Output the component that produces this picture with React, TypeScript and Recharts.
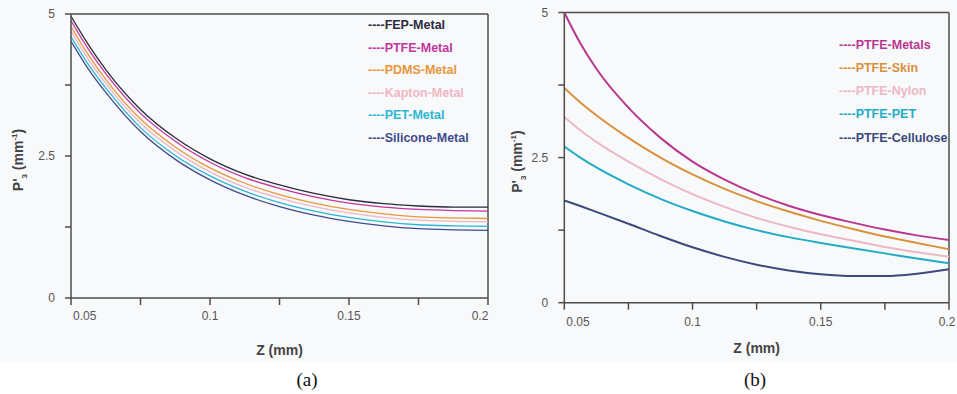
import React from 'react';
import { LineChart, Line, XAxis, YAxis, ReferenceLine, Label } from 'recharts';

// Z (mm) sample points, same grid for both panels
const zA = [0.05, 0.05625, 0.0625, 0.075, 0.0875, 0.1, 0.1125, 0.125, 0.1375, 0.15, 0.1625, 0.175, 0.1875, 0.2];
const zB = [0.05, 0.05625, 0.0625, 0.075, 0.0875, 0.1, 0.1125, 0.125, 0.1375, 0.15, 0.1625, 0.175, 0.1875, 0.2];

// panel (a): different materials against metal
const fepMetal = [4.96, 4.46, 4.02, 3.32, 2.82, 2.45, 2.18, 1.99, 1.84, 1.73, 1.66, 1.62, 1.6, 1.6];
const ptfeMetal = [4.88, 4.38, 3.95, 3.25, 2.76, 2.39, 2.12, 1.93, 1.78, 1.67, 1.6, 1.56, 1.54, 1.53];
const pdmsMetal = [4.78, 4.28, 3.85, 3.15, 2.66, 2.29, 2.02, 1.82, 1.67, 1.56, 1.48, 1.43, 1.41, 1.4];
const kaptonMetal = [4.7, 4.2, 3.78, 3.08, 2.59, 2.22, 1.95, 1.76, 1.61, 1.5, 1.42, 1.37, 1.35, 1.34];
const petMetal = [4.6, 4.11, 3.7, 3.0, 2.51, 2.15, 1.88, 1.68, 1.53, 1.42, 1.34, 1.29, 1.27, 1.26];
const siliconeMetal = [4.52, 4.03, 3.62, 2.93, 2.44, 2.08, 1.81, 1.61, 1.46, 1.35, 1.27, 1.22, 1.2, 1.19];

// panel (b): PTFE against different materials
const ptfeMetals = [5.0, 4.47, 4.03, 3.36, 2.84, 2.43, 2.12, 1.87, 1.67, 1.51, 1.38, 1.26, 1.16, 1.08];
const ptfeSkin = [3.7, 3.45, 3.23, 2.84, 2.5, 2.21, 1.96, 1.75, 1.57, 1.41, 1.27, 1.14, 1.03, 0.92];
const ptfeNylon = [3.2, 2.97, 2.77, 2.43, 2.13, 1.87, 1.65, 1.46, 1.31, 1.18, 1.07, 0.96, 0.87, 0.79];
const ptfePet = [2.69, 2.5, 2.33, 2.04, 1.79, 1.58, 1.4, 1.25, 1.13, 1.03, 0.94, 0.85, 0.76, 0.68];
const ptfeCellulose = [1.76, 1.665, 1.565, 1.36, 1.15, 0.955, 0.79, 0.655, 0.555, 0.49, 0.46, 0.46, 0.5, 0.575];

const xTicks = [0.05, 0.075, 0.1, 0.125, 0.15, 0.175, 0.2];
const xLabels = [0.05, 0.1, 0.15, 0.2];
const yTicks = [0, 1.25, 2.5, 3.75, 5];
const yLabels = [0, 2.5, 5];

const seriesA = [
  { key: 'fep', name: 'FEP-Metal', color: '#2b2b3c', values: fepMetal },
  { key: 'ptfe', name: 'PTFE-Metal', color: '#c2379b', values: ptfeMetal },
  { key: 'pdms', name: 'PDMS-Metal', color: '#e8963c', values: pdmsMetal },
  { key: 'kapton', name: 'Kapton-Metal', color: '#f0b6c2', values: kaptonMetal },
  { key: 'pet', name: 'PET-Metal', color: '#2cb6d2', values: petMetal },
  { key: 'silicone', name: 'Silicone-Metal', color: '#3f4b8c', values: siliconeMetal },
];

const seriesB = [
  { key: 'metals', name: 'PTFE-Metals', color: '#b8378f', values: ptfeMetals },
  { key: 'skin', name: 'PTFE-Skin', color: '#d9913c', values: ptfeSkin },
  { key: 'nylon', name: 'PTFE-Nylon', color: '#ebb8c4', values: ptfeNylon },
  { key: 'pet', name: 'PTFE-PET', color: '#22abc4', values: ptfePet },
  { key: 'cellulose', name: 'PTFE-Cellulose', color: '#3b4a7c', values: ptfeCellulose },
];

const AXIS = '#4d4d4d';
const TICK_FONT = '"Liberation Sans", Arial, sans-serif';

const near = (a: number, b: number) => Math.abs(a - b) < 1e-9;

const XTick = (props: any) => {
  const { x, y, payload } = props;
  const v = payload.value;
  if (!xLabels.some((l) => near(l, v))) return <g />;
  const first = near(v, 0.05);
  return (
    <text x={first ? x + 2 : x} y={y} dy="0.71em" textAnchor={first ? 'start' : 'middle'} fontSize={12} fontFamily={TICK_FONT} fill="#555">
      {String(v)}
    </text>
  );
};

const YTick = (props: any) => {
  const { x, y, payload } = props;
  const v = payload.value;
  if (!yLabels.some((l) => near(l, v))) return <g />;
  return (
    <text x={x} y={y} dy="0.355em" textAnchor="end" fontSize={12} fontFamily={TICK_FONT} fill="#555">
      {String(v)}
    </text>
  );
};

type PanelProps = {
  z: number[];
  series: typeof seriesA;
  width: number;
  height: number;
  margin: { top: number; right: number; bottom: number; left: number };
  strokeWidth: number;
  legendLeft: number;
  legendTop: number;
  legendRow: number;
  yTitleShift: number;
  yTitleDy: number;
  xTitleDy: number;
  tickDy: number;
};

function Panel({ z, series, width, height, margin, strokeWidth, legendLeft, legendTop, legendRow, yTitleShift, yTitleDy, xTitleDy, tickDy }: PanelProps) {
  const data = z.map((zz, i) => {
    const row: any = { z: zz };
    series.forEach((s) => (row[s.key] = s.values[i]));
    return row;
  });

  return (
    <div style={{ position: 'relative', width, height }}>
      <LineChart width={width} height={height} data={data} margin={margin}>
        <XAxis
          type="number"
          dataKey="z"
          domain={[0.05, 0.2]}
          ticks={xTicks}
          tick={(p: any) => <XTick {...p} y={p.y + tickDy} />}
          tickSize={7}
          tickMargin={6}
          height={30}
          stroke={AXIS}
          strokeWidth={1.5}
          allowDataOverflow
        >
          <Label
            content={(p: any) => {
              const vb = p.viewBox;
              return (
                <text x={vb.x + vb.width / 2} y={vb.y + xTitleDy} dy="0.355em" textAnchor="middle" fontSize={14} fontWeight="bold" fontFamily={TICK_FONT} fill="#444">
                  Z (mm)
                </text>
              );
            }}
          />
        </XAxis>
        <YAxis
          type="number"
          domain={[0, 5]}
          ticks={yTicks}
          tick={<YTick />}
          tickSize={6}
          tickMargin={10}
          width={40}
          stroke={AXIS}
          strokeWidth={1.5}
          allowDataOverflow
        >
          <Label
            content={(p: any) => {
              const vb = p.viewBox;
              const cx = vb.x + yTitleShift;
              const cy = vb.y + vb.height / 2 + yTitleDy;
              return (
                <text transform={`translate(${cx},${cy}) rotate(-90)`} textAnchor="middle" dy="0.355em" fontSize={14} fontWeight="bold" fontFamily={TICK_FONT} fill="#444">
                  P'
                  <tspan fontSize={8} dy={4}>3</tspan>
                  <tspan dy={-4}> (mm</tspan>
                  <tspan fontSize={8} dy={-6}>-1</tspan>
                  <tspan dy={6}>)</tspan>
                </text>
              );
            }}
          />
        </YAxis>
        <ReferenceLine y={5} stroke={AXIS} strokeWidth={1.5} />
        <ReferenceLine x={0.2} stroke={AXIS} strokeWidth={1.5} />
        {series.map((s) => (
          <Line
            key={s.key}
            type="monotone"
            dataKey={s.key}
            name={s.name}
            stroke={s.color}
            strokeWidth={strokeWidth}
            dot={false}
            activeDot={false}
            isAnimationActive={false}
          />
        ))}
      </LineChart>
      <div
        style={{
          position: 'absolute',
          left: legendLeft,
          top: legendTop,
          fontFamily: '"Liberation Sans", Arial, sans-serif',
          fontWeight: 'bold',
          fontSize: 12.5,
          lineHeight: `${legendRow}px`,
          whiteSpace: 'nowrap',
        }}
      >
        {series.map((s) => (
          <div key={s.key} style={{ color: s.color }}>
            {'----' + s.name}
          </div>
        ))}
      </div>
    </div>
  );
}

export default function App() {
  return (
    <div style={{ position: 'absolute', left: 0, top: 0, width: 957, height: 394, background: '#fff', overflow: 'hidden' }}>
      <div style={{ position: 'absolute', left: 0, top: 0, width: 957, height: 362, background: '#f8f9fb' }} />
      <div style={{ position: 'absolute', left: 0, top: 0 }}>
        <Panel
          z={zA}
          series={seriesA}
          width={490}
          height={360}
          margin={{ top: 14, right: 2, bottom: 32, left: 31 }}
          strokeWidth={1.3}
          legendLeft={368}
          legendTop={14}
          legendRow={22.6}
          yTitleShift={-13}
          yTitleDy={4}
          xTitleDy={52}
          tickDy={0}
        />
      </div>
      <div style={{ position: 'absolute', left: 490, top: 0 }}>
        <Panel
          z={zB}
          series={seriesB}
          width={467}
          height={360}
          margin={{ top: 12.5, right: 8, bottom: 27.3, left: 34.3 }}
          strokeWidth={2}
          legendLeft={349}
          legendTop={33.5}
          legendRow={23.3}
          yTitleShift={-6.8}
          yTitleDy={4}
          xTitleDy={45.5}
          tickDy={2}
        />
      </div>
      <div style={{ position: 'absolute', left: 307, top: 380, transform: 'translate(-50%, -50%)', fontFamily: '"Liberation Serif", "Times New Roman", serif', fontSize: 19, color: '#111' }}>(a)</div>
      <div style={{ position: 'absolute', left: 755, top: 380, transform: 'translate(-50%, -50%)', fontFamily: '"Liberation Serif", "Times New Roman", serif', fontSize: 19, color: '#111' }}>(b)</div>
    </div>
  );
}
